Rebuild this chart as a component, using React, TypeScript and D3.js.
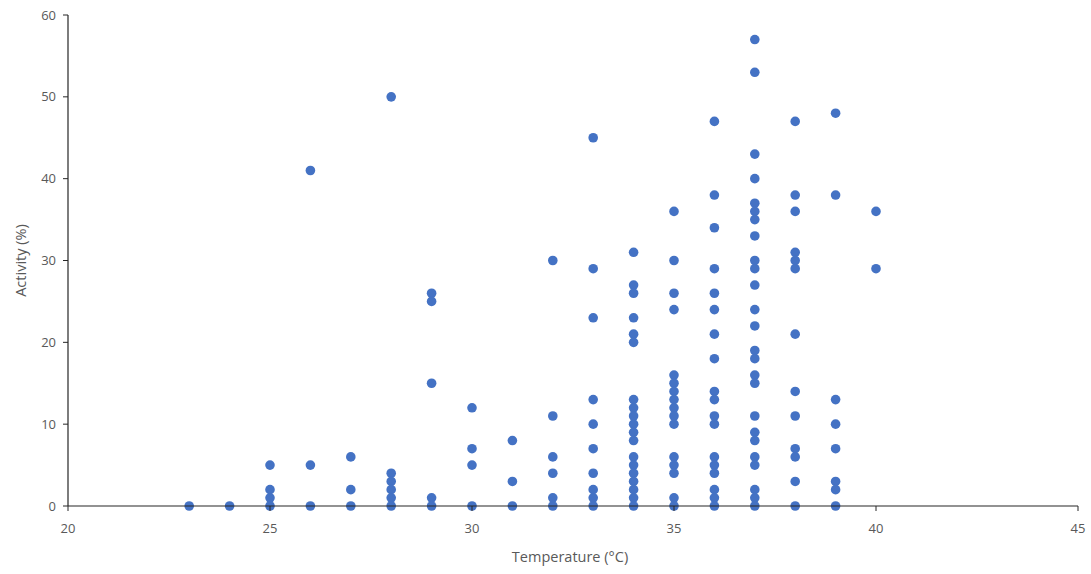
import React from "react";
import * as d3 from "d3";

const temperatures = [23, 24, 25, 26, 27, 28, 29, 30, 31, 32, 33, 34, 35, 36, 37, 38, 39, 40];
const activityByTemp = [
  [0],
  [0],
  [5, 2, 1, 0],
  [41, 5, 0],
  [6, 2, 0],
  [50, 4, 3, 2, 1, 0],
  [26, 25, 15, 1, 0],
  [12, 7, 5, 0],
  [8, 3, 0],
  [30, 11, 6, 4, 1, 0],
  [45, 29, 23, 13, 10, 7, 4, 2, 1, 0],
  [31, 27, 26, 23, 21, 20, 13, 12, 11, 10, 9, 8, 6, 5, 4, 3, 2, 1, 0],
  [36, 30, 26, 24, 16, 15, 14, 13, 12, 11, 10, 6, 5, 4, 1, 0],
  [47, 38, 34, 29, 26, 24, 21, 18, 14, 13, 11, 10, 6, 5, 4, 2, 1, 0],
  [57, 53, 43, 40, 37, 36, 35, 33, 30, 29, 27, 24, 22, 19, 18, 16, 15, 11, 9, 8, 6, 5, 2, 1, 0],
  [47, 38, 36, 31, 30, 29, 21, 14, 11, 7, 6, 3, 0],
  [48, 38, 13, 10, 7, 3, 2, 0],
  [36, 29],
];
const xTicks = [20, 25, 30, 35, 40, 45];
const yTicks = [0, 10, 20, 30, 40, 50, 60];

const W = 1091;
const H = 574;
const margin = { left: 68, right: 13, top: 15, bottom: 68 };

export default function App() {
  const x = d3.scaleLinear().domain([20, 45]).range([margin.left, W - margin.right]);
  const y = d3.scaleLinear().domain([0, 60]).range([H - margin.bottom, margin.top]);
  const points: { t: number; a: number }[] = [];
  temperatures.forEach((t, i) => activityByTemp[i].forEach((a) => points.push({ t, a })));
  const font = "'Open Sans', 'Liberation Sans', sans-serif";
  const axisColor = "#262626";
  const labelColor = "#595959";
  return (
    <svg width={W} height={H} style={{ position: "absolute", left: 0, top: 0, background: "#fff" }}>
      {points.map((p, i) => (
        <circle key={i} cx={x(p.t)} cy={y(p.a)} r={4.8} fill="#4472C4" />
      ))}
      <line x1={x(20)} x2={x(20)} y1={y(60)} y2={y(0)} stroke={axisColor} strokeWidth={1.2} />
      <line x1={x(20)} x2={x(45)} y1={y(0)} y2={y(0)} stroke={axisColor} strokeWidth={1.2} />
      {yTicks.map((v) => (
        <g key={"y" + v}>
          <line x1={x(20) - 5} x2={x(20)} y1={y(v)} y2={y(v)} stroke={axisColor} strokeWidth={1} />
          <text x={x(20) - 12} y={y(v)} dy="0.35em" textAnchor="end" fontSize={13} fill={labelColor} fontFamily={font}>
            {v}
          </text>
        </g>
      ))}
      {xTicks.map((v) => (
        <g key={"x" + v}>
          <line x1={x(v)} x2={x(v)} y1={y(0)} y2={y(0) + 5} stroke={axisColor} strokeWidth={1} />
          <text x={x(v)} y={y(0) + 27} textAnchor="middle" fontSize={13} fill={labelColor} fontFamily={font}>
            {v}
          </text>
        </g>
      ))}
      <text x={570} y={562} textAnchor="middle" fontSize={14.5} fill={labelColor} fontFamily={font}>
        Temperature (°C)
      </text>
      <text
        transform={`translate(26, ${y(30)}) rotate(-90)`}
        textAnchor="middle"
        fontSize={14.5}
        fill={labelColor}
        fontFamily={font}
      >
        Activity (%)
      </text>
    </svg>
  );
}
